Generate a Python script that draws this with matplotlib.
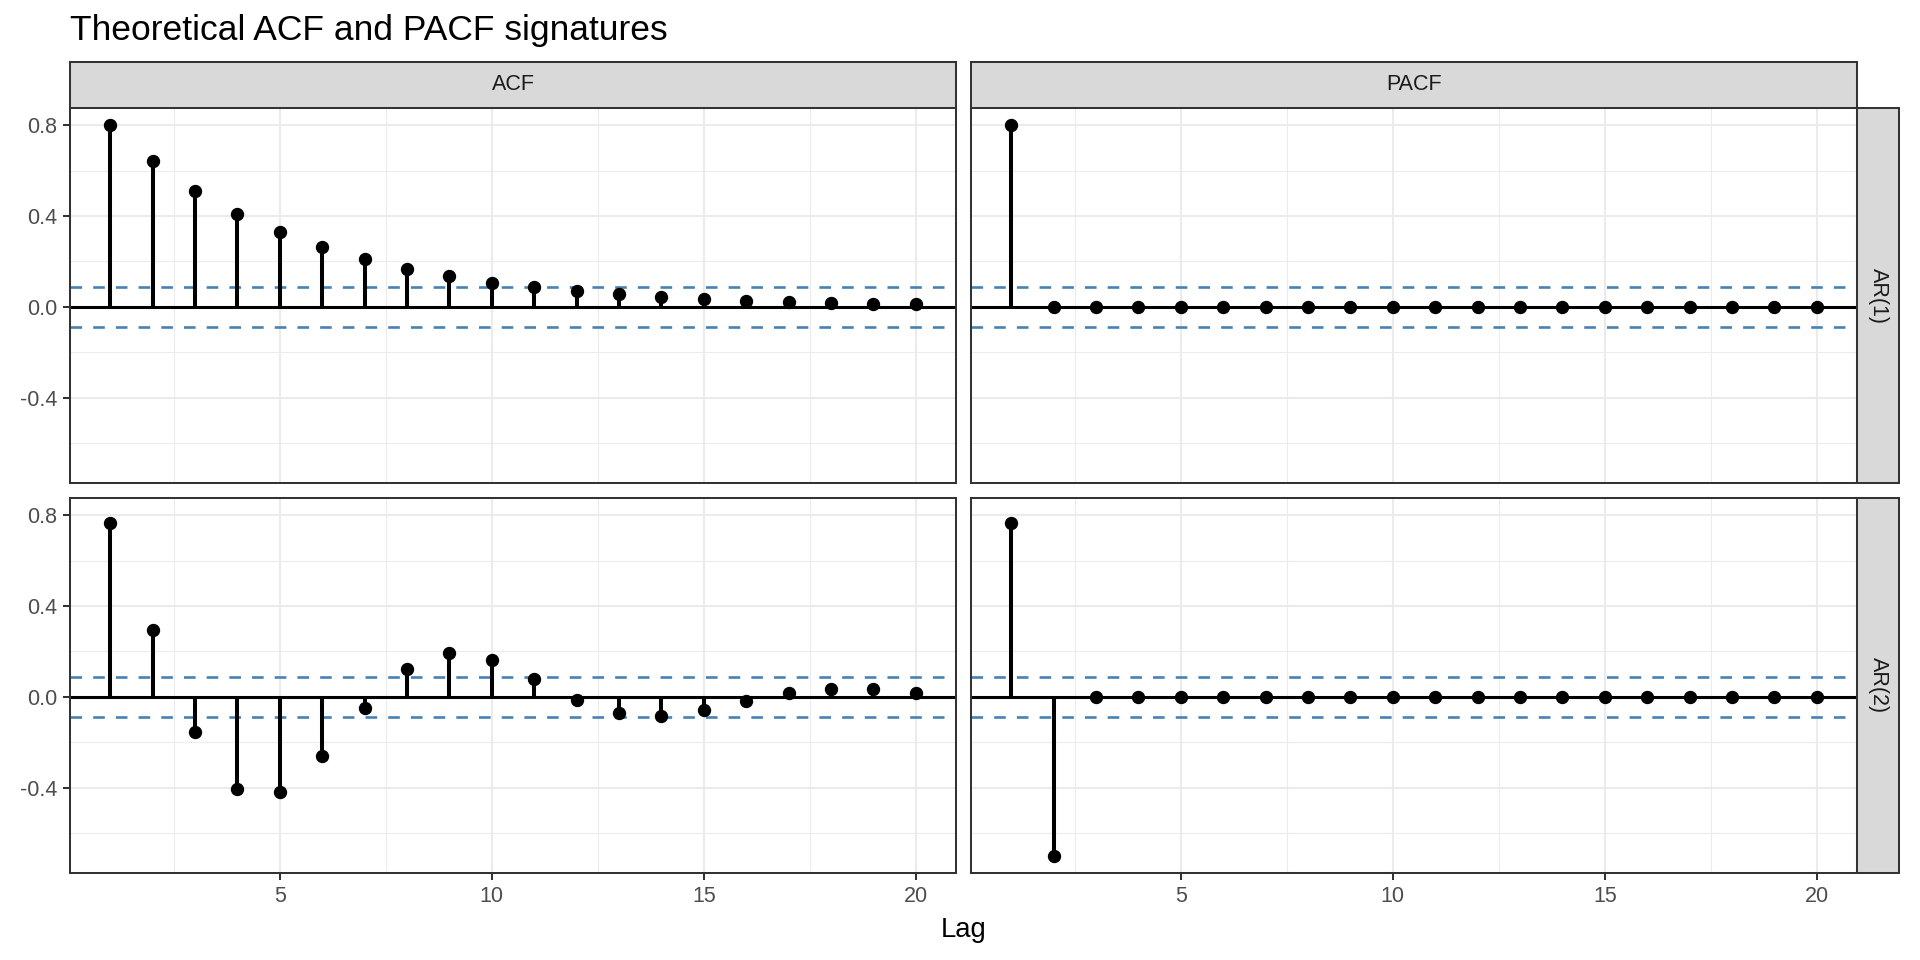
import matplotlib
matplotlib.use("Agg")
import matplotlib.pyplot as plt
import numpy as np

plt.rcParams['font.family'] = ['Liberation Sans', 'DejaVu Sans']

# data
lags = list(range(1, 21))
acf_ar1 = [0.800, 0.640, 0.512, 0.410, 0.328, 0.262, 0.210, 0.168, 0.134, 0.107,
           0.086, 0.069, 0.055, 0.044, 0.035, 0.028, 0.023, 0.018, 0.014, 0.012]
pacf_ar1 = [0.800, 0, 0, 0, 0, 0, 0, 0, 0, 0, 0, 0, 0, 0, 0, 0, 0, 0, 0, 0]
acf_ar2 = [0.765, 0.294, -0.153, -0.405, -0.419, -0.262, -0.047, 0.123, 0.192, 0.164,
           0.079, -0.013, -0.071, -0.084, -0.059, -0.018, 0.018, 0.036, 0.034, 0.019]
pacf_ar2 = [0.765, -0.700, 0, 0, 0, 0, 0, 0, 0, 0, 0, 0, 0, 0, 0, 0, 0, 0, 0, 0]
conf = 0.0877
col_labels = ['ACF', 'PACF']
row_labels = ['AR(1)', 'AR(2)']
series = [[acf_ar1, pacf_ar1], [acf_ar2, pacf_ar2]]

W, H = 1920, 960
fig = plt.figure(figsize=(W/100, H/100), dpi=100, facecolor='white')

def box(x0, y0, x1, y1):
    # pixel box (top-left origin) -> figure fraction
    return [x0/W, 1 - y1/H, (x1-x0)/W, (y1-y0)/H]

xs = [(70, 956), (971, 1857)]
ys = [(108, 483), (498, 873)]
ymin, ymax = -0.775, 0.875
xmin, xmax = 1 - 0.95, 20 + 0.95

for r in range(2):
    for c in range(2):
        ax = fig.add_axes(box(xs[c][0], ys[r][0], xs[c][1], ys[r][1]))
        vals = series[r][c]
        ax.set_xlim(xmin, xmax)
        ax.set_ylim(ymin, ymax)
        ax.set_xticks([5, 10, 15, 20])
        ax.set_xticks([2.5, 7.5, 12.5, 17.5], minor=True)
        ax.set_yticks([-0.4, 0.0, 0.4, 0.8])
        ax.set_yticks([-0.6, -0.2, 0.2, 0.6], minor=True)
        ax.set_yticklabels(['-0.4', '0.0', '0.4', '0.8'])
        ax.grid(which='major', color='#EBEBEB', linewidth=1.45)
        ax.grid(which='minor', color='#EBEBEB', linewidth=0.75)
        ax.set_axisbelow(True)
        for s in ax.spines.values():
            s.set_color('#333333')
            s.set_linewidth(1.45)
        ax.tick_params(which='major', length=5, width=1.45, color='#333333',
                       labelsize=15.5, labelcolor='#4D4D4D', pad=4)
        ax.tick_params(which='minor', length=0)
        if c == 1:
            ax.tick_params(axis='y', which='major', length=0, labelleft=False)
        if r == 0:
            ax.tick_params(axis='x', which='major', length=0, labelbottom=False)

        ax.axhline(0, color='black', linewidth=2.2, zorder=2)
        for h in (conf, -conf):
            ax.axhline(h, color='#4682B4', linewidth=1.9, linestyle=(0, (4.4, 4.2)), zorder=2)
        ax.vlines(lags, 0, vals, color='black', linewidth=2.9, zorder=3)
        ax.plot(lags, vals, 'o', color='black', markersize=8.6, zorder=4)

# top strips
for c in range(2):
    sax = fig.add_axes(box(xs[c][0], 62, xs[c][1], 108))
    sax.set_facecolor('#D9D9D9')
    sax.set_xticks([]); sax.set_yticks([])
    for s in sax.spines.values():
        s.set_color('#333333'); s.set_linewidth(1.45)
    sax.text(0.5, 0.5, col_labels[c], transform=sax.transAxes, ha='center', va='center',
             fontsize=15.5, color='#1A1A1A')

# right strips
for r in range(2):
    sax = fig.add_axes(box(1857, ys[r][0], 1899, ys[r][1]))
    sax.set_facecolor('#D9D9D9')
    sax.set_xticks([]); sax.set_yticks([])
    for s in sax.spines.values():
        s.set_color('#333333'); s.set_linewidth(1.45)
    sax.text(0.5, 0.5, row_labels[r], transform=sax.transAxes, ha='center', va='center',
             rotation=-90, fontsize=15.5, color='#1A1A1A')

fig.text(70/W, 1 - 40/H, 'Theoretical ACF and PACF signatures', ha='left', va='baseline',
         fontsize=25.5, color='black')
fig.text((70 + 1857)/2/W, 1 - 930/H, 'Lag', ha='center', va='center', fontsize=19.8, color='black')

fig.savefig('out.png', dpi=100, facecolor='white')
